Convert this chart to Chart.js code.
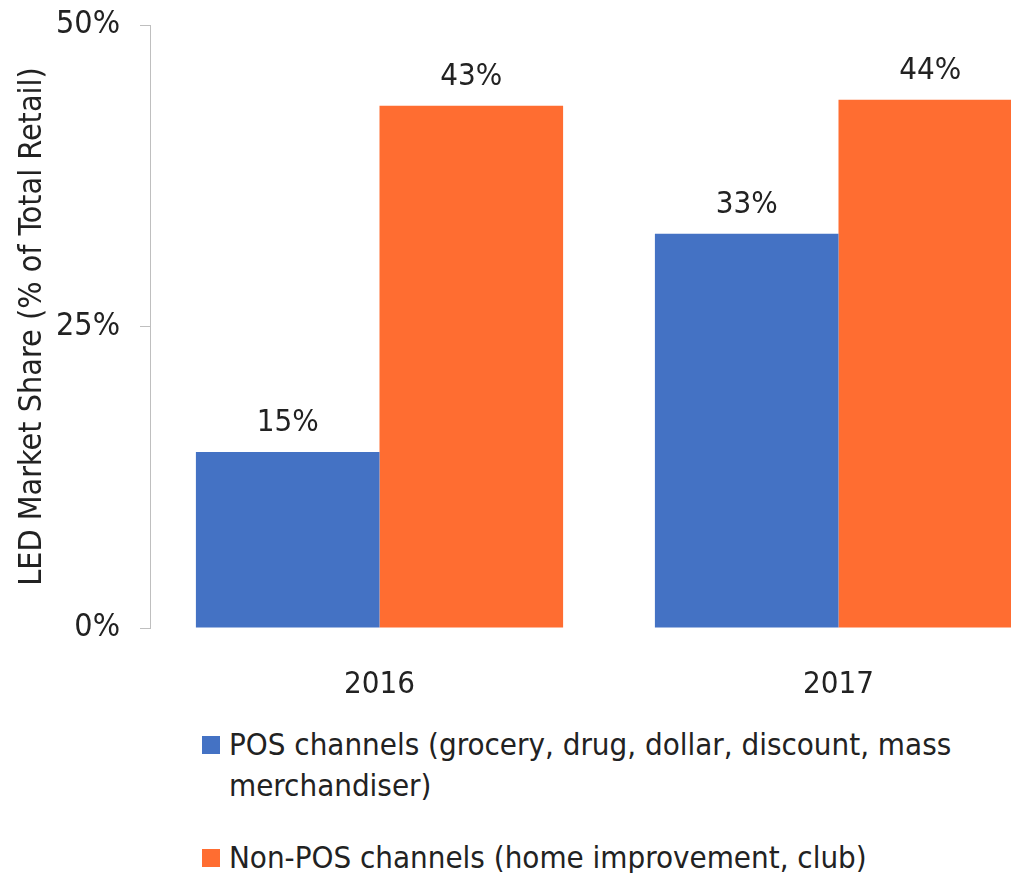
<!DOCTYPE html>
<html>
<head>
<meta charset="utf-8">
<script src="https://cdn.jsdelivr.net/npm/chart.js@4.4.1/dist/chart.umd.min.js"></script>
<style>
  html, body { margin: 0; padding: 0; background: #fff; overflow: hidden; }
  body { width: 1011px; height: 873px; position: relative; font-family: "DejaVu Sans Condensed", "DejaVu Sans", sans-serif; color: #222; }
  #wrap { position: absolute; left: 0; top: 0; width: 1068px; height: 700px; }
  #legend { position: absolute; left: 202px; top: 724px; width: 790px; font-size: 31px; line-height: 41px; }
  .item { display: flex; align-items: flex-start; margin-bottom: 31px; }
  .swatch { flex: none; width: 18px; height: 18px; margin: 12px 9px 0 0; }
</style>
</head>
<body>
<div id="wrap"><canvas id="chart"></canvas></div>
<div id="legend"></div>
<script>
const years = ["2016", "2017"];
const seriesNames = [
  "POS channels (grocery, drug, dollar, discount, mass merchandiser)",
  "Non-POS channels (home improvement, club)",
];
const posShare = [14.6, 32.7];
const nonPosShare = [43.3, 43.8];
const yTicks = [0, 25, 50];

const colors = { blue: "#4472c4", orange: "#ff6d31", text: "#222222", axis: "#bfbfbf" };
const font = { family: '"DejaVu Sans Condensed", "DejaVu Sans", sans-serif', size: 31 };

// value labels above each bar, taken from the same data the bars use
const barLabels = {
  id: "barLabels",
  afterDatasetsDraw(chart) {
    const ctx = chart.ctx;
    ctx.save();
    ctx.font = `${font.size}px ${font.family}`;
    ctx.fillStyle = colors.text;
    ctx.textAlign = "center";
    ctx.textBaseline = "middle";
    chart.data.datasets.forEach((ds, i) => {
      chart.getDatasetMeta(i).data.forEach((bar, j) => {
        ctx.fillText(`${Math.round(ds.data[j])}%`, bar.x, bar.y - 29);
      });
    });
    ctx.restore();
  },
};

new Chart(document.querySelector("#chart"), {
  type: "bar",
  data: {
    labels: years,
    datasets: [
      { label: seriesNames[0], data: posShare, backgroundColor: colors.blue },
      { label: seriesNames[1], data: nonPosShare, backgroundColor: colors.orange },
    ],
  },
  options: {
    responsive: true,
    maintainAspectRatio: false,
    animation: false,
    layout: { padding: { top: 25, right: 0, bottom: 0, left: 0 } },
    datasets: { bar: { barPercentage: 1, categoryPercentage: 0.8 } },
    plugins: { legend: { display: false }, tooltip: { enabled: false } },
    scales: {
      x: {
        grid: { display: false },
        border: { display: false },
        ticks: { color: colors.text, font, padding: 30 },
        afterFit(scale) { scale.height = 72; },
      },
      y: {
        min: 0,
        max: 50,
        afterBuildTicks(scale) { scale.ticks = yTicks.map((value) => ({ value })); },
        grid: { drawOnChartArea: false, color: colors.axis, tickLength: 10 },
        border: { color: colors.axis },
        ticks: { color: colors.text, font: { ...font, size: 32 }, padding: 20, callback: (v) => `${v}%` },
        title: {
          display: true,
          text: "LED Market Share (% of Total Retail)",
          color: colors.text,
          font: { ...font, size: 32 },
          padding: { top: 13, bottom: 0 },
        },
        afterFit(scale) {
          scale.width = 150;
          scale.paddingTop = 0;
          scale.paddingBottom = 0;
        },
      },
    },
  },
  plugins: [barLabels],
});

const legend = document.querySelector("#legend");
seriesNames.forEach((name, i) => {
  const item = document.createElement("div");
  item.className = "item";
  item.innerHTML = `<span class="swatch" style="background:${[colors.blue, colors.orange][i]}"></span><span>${name}</span>`;
  legend.appendChild(item);
});
</script>
</body>
</html>
